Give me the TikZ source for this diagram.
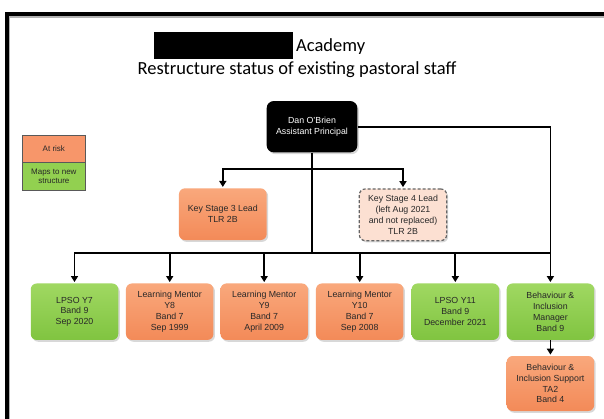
\documentclass[tikz,border=0pt]{standalone}
\usepackage{fontspec}
\setmainfont{Liberation Sans}
\newfontfamily\titlefont{Carlito}
\usetikzlibrary{shadows,arrows.meta}
\definecolor{orTop}{RGB}{249,168,124}
\definecolor{orBot}{RGB}{243,138,88}
\definecolor{grTop}{RGB}{160,216,98}
\definecolor{grBot}{RGB}{128,196,64}
\definecolor{legOr}{RGB}{247,150,106}
\definecolor{legGr}{RGB}{146,208,80}
\definecolor{pinkFill}{RGB}{252,224,210}
\definecolor{txt}{RGB}{40,40,40}
\begin{document}
\begin{tikzpicture}[x=1pt,y=-1pt,
  box/.style={rounded corners=6pt, minimum width=87.5pt, minimum height=56.5pt,
    align=center, font=\fontsize{8.8}{10.8}\selectfont, text=txt, inner sep=1pt,
    drop shadow={shadow xshift=1.5pt,shadow yshift=-1.8pt,opacity=0.3,fill=black!50}},
  risk/.style={box, top color=orTop, bottom color=orBot},
  maps/.style={box, top color=grTop, bottom color=grBot},
  legendbox/.style={draw=black!65, line width=0.7pt, minimum width=62.3pt,
    align=center, font=\fontsize{8}{9.3}\selectfont, text=txt, inner sep=1pt},
  conn/.style={line width=1.8pt, draw=black},
  arr/.style={conn, -{Triangle[length=6pt,width=7pt]}, shorten >=1.2pt},
]
\useasboundingbox (0,0) rectangle (604,418);
\fill[white] (0,0) rectangle (604,418);
% frame
\draw[line width=1.2pt, black!30] (9.6,430) -- (9.6,16.9) -- (620,16.9);
\draw[line width=4pt] (7,430) -- (7,14.3) -- (620,14.3);

% title
\node[fill=black, minimum width=139pt, minimum height=27.6pt, inner sep=0] (redact) at (223.5,45.5) {};
\node[anchor=base west, font=\titlefont\fontsize{18.5}{22}\selectfont, inner sep=0] (acad) at (296,51.5) {Academy};
\node[anchor=base, font=\titlefont\fontsize{18.5}{22}\selectfont, inner sep=0] (sub) at (297,74.5) {Restructure status of existing pastoral staff};

% legend
\node[legendbox, fill=legOr, minimum height=27.3pt] (atrisk) at (53.85,148.65) {At risk};
\node[legendbox, fill=legGr, minimum height=28.4pt] (mapsleg) at (53.85,176.5) {Maps to new\\structure};

% top
\node[box, fill=black, text=white, minimum width=90.6pt, minimum height=51.3pt, rounded corners=7pt] (dan) at (312,126.7) {Dan O'Brien\\Assistant Principal};

\node[risk, minimum width=87.7pt, minimum height=51.7pt] (ks3) at (222.8,214.2) {Key Stage 3 Lead\\TLR 2B};
\node[box, fill=pinkFill, draw=black!60, line width=1.2pt, dash pattern=on 3pt off 2pt,
  minimum width=87.4pt, minimum height=51.7pt] (ks4) at (403,214.8) {Key Stage 4 Lead\\(left Aug 2021\\and not replaced)\\TLR 2B};

% bottom row
\node[maps] (b1) at (74.5,311.7) {LPSO Y7\\Band 9\\Sep 2020};
\node[risk] (b2) at (169.7,311.7) {Learning Mentor\\Y8\\Band 7\\Sep 1999};
\node[risk] (b3) at (264.2,311.7) {Learning Mentor\\Y9\\Band 7\\April 2009};
\node[risk] (b4) at (359.7,311.7) {Learning Mentor\\Y10\\Band 7\\Sep 2008};
\node[maps] (b5) at (455.3,311.7) {LPSO Y11\\Band 9\\December 2021};
\node[maps] (b6) at (550.4,311.7) {Behaviour \&\\Inclusion\\Manager\\Band 9};
\node[risk, minimum height=55pt] (sup) at (550.4,383.5) {Behaviour \&\\Inclusion Support\\TA2\\Band 4};

% connectors
\coordinate (busy) at (0,253.3);
\coordinate (ksy) at (0,169.3);
\draw[conn] (dan.south) -- (dan |- busy);
\draw[conn, line cap=rect] (ks3 |- ksy) -- (ks4 |- ksy);
\draw[arr] (ks3 |- ksy) -- (ks3.north);
\draw[arr] (ks4 |- ksy) -- (ks4.north);
\draw[conn, line cap=rect] (b1 |- busy) -- (b6 |- busy);
\foreach \n in {b1,b2,b3,b4,b5} \draw[arr] (\n |- busy) -- (\n.north);
\draw[arr] (dan.east) -| (b6.north);
\draw[arr] (b6.south) -- (sup.north);
\end{tikzpicture}
\end{document}
